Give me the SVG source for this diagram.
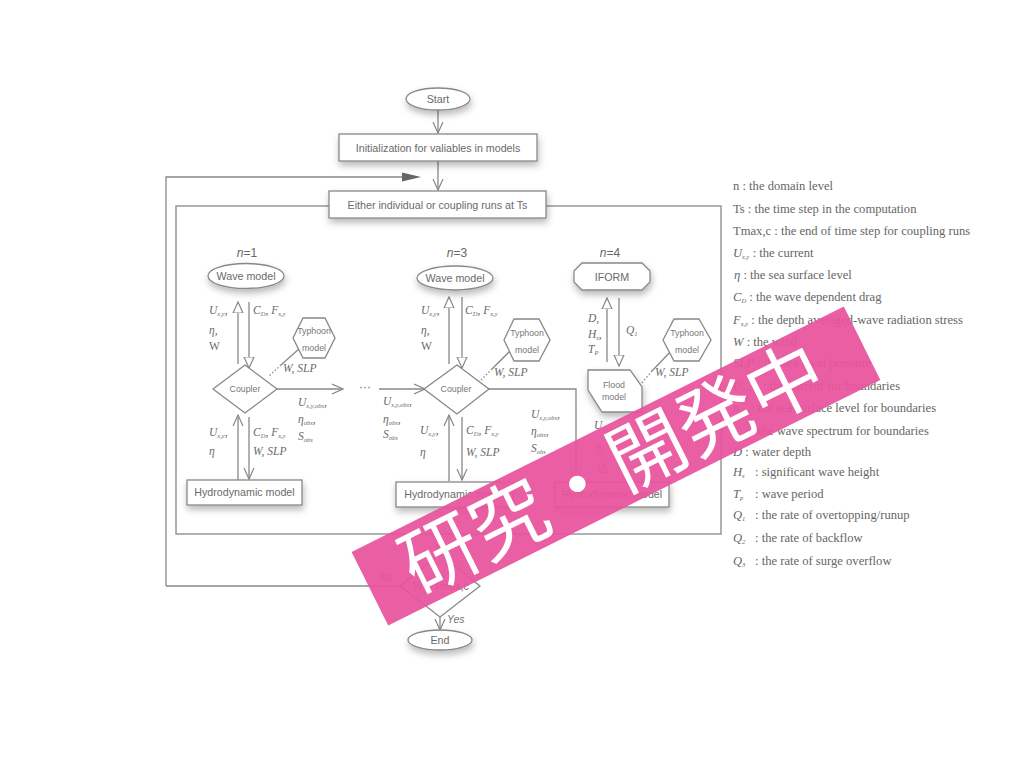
<svg xmlns="http://www.w3.org/2000/svg" width="1024" height="768" viewBox="0 0 1024 768">
<defs>
<filter id="sh" x="-30%" y="-30%" width="160%" height="190%">
<feDropShadow dx="1" dy="4" stdDeviation="3.5" flood-color="#000" flood-opacity="0.28"/>
</filter>
<marker id="v" markerUnits="userSpaceOnUse" markerWidth="12" markerHeight="12" viewBox="0 0 12 12" refX="11" refY="6" orient="auto">
<path d="M0,1 L11,6 L0,11" fill="none" stroke="#888" stroke-width="1.2"/>
</marker>
<marker id="tri" markerUnits="userSpaceOnUse" markerWidth="12" markerHeight="12" viewBox="0 0 12 12" refX="11" refY="6" orient="auto">
<path d="M0,1 L11,6 L0,11 z" fill="#fff" stroke="#888" stroke-width="1.2"/>
</marker>
<style>
.ln{stroke:#888;stroke-width:1.3;fill:none}
.dt{stroke:#888;stroke-width:1.3;fill:none;stroke-dasharray:1.5 2}
.nd{fill:#fff;stroke:#888;stroke-width:1.3}
.t{font-family:"Liberation Sans",Arial,sans-serif;font-size:10.7px;fill:#6a6a6a;text-anchor:middle}
.ts{font-family:"Liberation Sans",Arial,sans-serif;font-size:8.8px;fill:#777;text-anchor:middle}
.n{font-family:"Liberation Sans",Arial,sans-serif;font-size:12px;fill:#666;text-anchor:middle}
.m{font-family:"Liberation Serif","Times New Roman",serif;font-style:italic;font-size:11.5px;fill:#6a6a6a}
.up{font-style:normal}
.s{font-size:6.5px}
.lg{font-family:"Liberation Serif","Times New Roman",serif;font-size:12.6px;fill:#666}
.i{font-style:italic}
.yn{font-family:"Liberation Sans",Arial,sans-serif;font-style:italic;font-size:10.5px;fill:#777}
</style>
</defs>
<rect width="1024" height="768" fill="#fff"/>

<g id="connectors">
<line class="ln" x1="438" y1="110" x2="438" y2="133" marker-end="url(#v)"/>
<line class="ln" x1="438" y1="161" x2="438" y2="190" marker-end="url(#v)"/>
<polyline class="ln" points="166,586 166,177 403,177"/>
<polygon points="402,172.5 421,177 402,181.5" fill="#666"/>
<line class="ln" x1="166" y1="586" x2="400" y2="586"/>
<rect class="ln" x="176" y="206" width="545" height="328"/>
<line class="ln" x1="440" y1="534" x2="440" y2="553" marker-end="url(#v)"/>
<line class="ln" x1="440" y1="617" x2="440" y2="630" marker-end="url(#v)"/>
<!-- n=1 -->
<line class="ln" x1="238" y1="364" x2="238" y2="302" marker-end="url(#tri)"/>
<line class="ln" x1="249" y1="302" x2="249" y2="368" marker-end="url(#tri)"/>
<line class="ln" x1="238" y1="480" x2="238" y2="415" marker-end="url(#v)"/>
<line class="ln" x1="249" y1="417" x2="249" y2="479" marker-end="url(#v)"/>
<line class="ln" x1="277" y1="389" x2="343" y2="389" marker-end="url(#v)"/>
<line class="ln" x1="300" y1="348" x2="281" y2="365"/>
<line class="dt" x1="281" y1="365" x2="269" y2="376"/>
<!-- n=3 -->
<line class="ln" x1="449" y1="364" x2="449" y2="297" marker-end="url(#tri)"/>
<line class="ln" x1="462" y1="297" x2="462" y2="368" marker-end="url(#tri)"/>
<line class="ln" x1="449" y1="481" x2="449" y2="415" marker-end="url(#v)"/>
<line class="ln" x1="462" y1="417" x2="462" y2="480" marker-end="url(#v)"/>
<line class="ln" x1="379" y1="389" x2="425" y2="389" marker-end="url(#v)"/>
<polyline class="ln" points="489,389 576,389 576,481" marker-end="url(#v)"/>
<line class="ln" x1="511" y1="350" x2="492" y2="369"/>
<line class="dt" x1="492" y1="369" x2="480" y2="381"/>
<!-- n=4 -->
<line class="ln" x1="607" y1="362" x2="607" y2="298" marker-end="url(#tri)"/>
<line class="ln" x1="619" y1="298" x2="619" y2="366" marker-end="url(#tri)"/>
<line class="ln" x1="672" y1="350" x2="652" y2="371"/>
<line class="dt" x1="652" y1="371" x2="641" y2="384"/>
</g>

<g id="start"><ellipse class="nd" filter="url(#sh)" cx="438" cy="99" rx="32" ry="11"/><text class="t" x="438" y="103">Start</text></g>
<g id="init"><rect class="nd" filter="url(#sh)" x="339" y="134" width="198" height="27"/><text class="t" x="438" y="152">Initialization for valiables in models</text></g>
<g id="either"><rect class="nd" filter="url(#sh)" x="329" y="191" width="217" height="27"/><text class="t" x="437.5" y="208.5">Either individual or coupling runs at Ts</text></g>

<g id="n1">
<text class="n" x="247" y="257"><tspan class="i">n</tspan>=1</text>
<g id="wave1"><ellipse class="nd" filter="url(#sh)" cx="246" cy="276" rx="38" ry="12.5"/><text class="t" x="246" y="280">Wave model</text></g>
<g id="typhoon1"><path class="nd" d="M293,338 L303,318 L325,318 L335,338 L325,358 L303,358 Z"/><text class="ts" x="314" y="334">Typhoon</text><text class="ts" x="314" y="351">model</text></g>
<g id="coupler1"><path class="nd" d="M213,389 L245,365 L277,389 L245,413 Z"/><text class="ts" x="245" y="392">Coupler</text></g>
<g id="hydro1"><rect class="nd" filter="url(#sh)" x="187" y="480" width="115" height="25"/><text class="t" x="244.5" y="496">Hydrodynamic model</text></g>
<text class="m" x="209" y="314">U<tspan class="s" dy="2">x,y</tspan><tspan dy="-2">,</tspan></text>
<text class="m" x="209" y="334">η,</text>
<text class="m up" x="209" y="350">W</text>
<text class="m" x="253" y="314">C<tspan class="s" dy="2">D</tspan><tspan dy="-2">, F</tspan><tspan class="s" dy="2">x,y</tspan></text>
<text class="m" x="283" y="372">W, SLP</text>
<text class="m" x="298" y="406">U<tspan class="s" dy="2">x,y,obs</tspan><tspan dy="-2">,</tspan></text>
<text class="m" x="298" y="423">η<tspan class="s" dy="2">obs</tspan><tspan dy="-2">,</tspan></text>
<text class="m" x="298" y="440">S<tspan class="s" dy="2">obs</tspan></text>
<text class="m" x="209" y="436">U<tspan class="s" dy="2">x,y</tspan><tspan dy="-2">,</tspan></text>
<text class="m" x="209" y="455">η</text>
<text class="m" x="253" y="436">C<tspan class="s" dy="2">D</tspan><tspan dy="-2">, F</tspan><tspan class="s" dy="2">x,y</tspan></text>
<text class="m" x="253" y="455">W, SLP</text>
</g>
<text class="n" x="365" y="391">···</text>

<g id="n3">
<text class="n" x="457" y="257"><tspan class="i">n</tspan>=3</text>
<g id="wave3"><ellipse class="nd" filter="url(#sh)" cx="455" cy="278" rx="38" ry="12"/><text class="t" x="455" y="282">Wave model</text></g>
<g id="typhoon3"><path class="nd" d="M504,340 L514,319 L539,319 L550,340 L539,361 L514,361 Z"/><text class="ts" x="527" y="336">Typhoon</text><text class="ts" x="527" y="353">model</text></g>
<g id="coupler3"><path class="nd" d="M424,389 L457,365 L489,389 L457,414 Z"/><text class="ts" x="456" y="392">Coupler</text></g>
<g id="hydro3"><rect class="nd" filter="url(#sh)" x="396" y="482" width="117" height="25"/><text class="t" x="454.5" y="498">Hydrodynamic model</text></g>
<text class="m" x="421" y="314">U<tspan class="s" dy="2">x,y</tspan><tspan dy="-2">,</tspan></text>
<text class="m" x="421" y="334">η,</text>
<text class="m up" x="421" y="350">W</text>
<text class="m" x="465" y="314">C<tspan class="s" dy="2">D</tspan><tspan dy="-2">, F</tspan><tspan class="s" dy="2">x,y</tspan></text>
<text class="m" x="494" y="376">W, SLP</text>
<text class="m" x="383" y="405">U<tspan class="s" dy="2">x,y,obs</tspan><tspan dy="-2">,</tspan></text>
<text class="m" x="383" y="423">η<tspan class="s" dy="2">obs</tspan><tspan dy="-2">,</tspan></text>
<text class="m" x="383" y="438">S<tspan class="s" dy="2">obs</tspan></text>
<text class="m" x="420" y="434">U<tspan class="s" dy="2">x,y</tspan><tspan dy="-2">,</tspan></text>
<text class="m" x="420" y="456">η</text>
<text class="m" x="466" y="434">C<tspan class="s" dy="2">D</tspan><tspan dy="-2">, F</tspan><tspan class="s" dy="2">x,y</tspan></text>
<text class="m" x="466" y="456">W, SLP</text>
<text class="m" x="531" y="418">U<tspan class="s" dy="2">x,y,obs</tspan><tspan dy="-2">,</tspan></text>
<text class="m" x="531" y="435">η<tspan class="s" dy="2">obs</tspan><tspan dy="-2">,</tspan></text>
<text class="m" x="531" y="452">S<tspan class="s" dy="2">obs</tspan></text>
</g>

<g id="n4">
<text class="n" x="610" y="257"><tspan class="i">n</tspan>=4</text>
<g id="iform"><path class="nd" filter="url(#sh)" d="M582,263 L642,263 L650,271 L650,282 L642,290 L582,290 L574,282 L574,271 Z"/><text class="t" x="612" y="281">IFORM</text></g>
<g id="typhoon4"><path class="nd" d="M663,340 L674,319 L699,319 L711,340 L699,361 L674,361 Z"/><text class="ts" x="687" y="336">Typhoon</text><text class="ts" x="687" y="353">model</text></g>
<g id="flood"><path class="nd" filter="url(#sh)" d="M588,370 L630,370 L642,387 L642,412 L602,412 L588,390 Z"/><text class="ts" x="614" y="388">Flood</text><text class="ts" x="614" y="400">model</text></g>
<g id="hydro4"><rect class="nd" filter="url(#sh)" x="555" y="482" width="114" height="25"/><text class="t" x="612" y="498">Hydrodynamic model</text></g>
<text class="m" x="588" y="322">D,</text>
<text class="m" x="588" y="338">H<tspan class="s" dy="2">s</tspan><tspan dy="-2">,</tspan></text>
<text class="m" x="588" y="353">T<tspan class="s" dy="2">P</tspan></text>
<text class="m" x="626" y="334">Q<tspan class="s" dy="2">1</tspan></text>
<text class="m" x="655" y="376">W, SLP</text>
<text class="m" x="594" y="429">U<tspan class="s" dy="2">x,y</tspan><tspan dy="-2">,</tspan></text>
<text class="m" x="596" y="451">η,</text>
<text class="m" x="597" y="471">Q<tspan class="s" dy="2">2</tspan></text>
</g>

<g id="check">
<path class="nd" d="M400,586 L440,554 L480,586 L440,617 Z"/>
<text class="t" x="440" y="590">Ts &lt; Tmax,c</text>
<text class="yn" x="379" y="581">No</text>
<text class="yn" x="447" y="623">Yes</text>
</g>
<g id="end"><ellipse class="nd" filter="url(#sh)" cx="440" cy="640" rx="32" ry="10"/><text class="t" x="440" y="644">End</text></g>

<g id="legend">
<text class="lg" x="733" y="190">n : the domain level</text>
<text class="lg" x="733" y="213">Ts : the time step in the computation</text>
<text class="lg" x="733" y="235">Tmax,c : the end of time step for coupling runs</text>
<text class="lg" x="733" y="257"><tspan class="i">U</tspan><tspan class="s i" dy="2">x,y</tspan><tspan dy="-2"> : the current</tspan></text>
<text class="lg" x="734" y="279"><tspan class="i">η</tspan> : the sea surface level</text>
<text class="lg" x="733" y="301"><tspan class="i">C</tspan><tspan class="s i" dy="2">D</tspan><tspan dy="-2"> : the wave dependent drag</tspan></text>
<text class="lg" x="733" y="324"><tspan class="i">F</tspan><tspan class="s i" dy="2">x,y</tspan><tspan dy="-2"> : the depth averaged-wave radiation stress</tspan></text>
<text class="lg" x="733" y="346"><tspan class="i">W</tspan> : the wind</text>
<text class="lg" x="733" y="367"><tspan class="i">SLP</tspan> : the sea level pressure</text>
<text class="lg" x="733" y="390"><tspan class="i">U</tspan><tspan class="s i" dy="2">x,y,obs</tspan><tspan dy="-2"> : the current for boundaries</tspan></text>
<text class="lg" x="733" y="412"><tspan class="i">η</tspan><tspan class="s i" dy="2">obs</tspan><tspan dy="-2"> : the sea surface level for boundaries</tspan></text>
<text class="lg" x="733" y="435"><tspan class="i">S</tspan><tspan class="s i" dy="2">obs</tspan><tspan dy="-2"> : the wave spectrum for boundaries</tspan></text>
<text class="lg" x="733" y="456"><tspan class="i">D</tspan> : water depth</text>
<text class="lg" x="733" y="476"><tspan class="i">H</tspan><tspan class="s i" dy="2">s</tspan><tspan dy="-2" x="755">: significant wave height</tspan></text>
<text class="lg" x="733" y="498"><tspan class="i">T</tspan><tspan class="s i" dy="2">p</tspan><tspan dy="-2" x="755">: wave period</tspan></text>
<text class="lg" x="733" y="519"><tspan class="i">Q</tspan><tspan class="s i" dy="2">1</tspan><tspan dy="-2" x="755">: the rate of overtopping/runup</tspan></text>
<text class="lg" x="733" y="542"><tspan class="i">Q</tspan><tspan class="s i" dy="2">2</tspan><tspan dy="-2" x="755">: the rate of backflow</tspan></text>
<text class="lg" x="733" y="565"><tspan class="i">Q</tspan><tspan class="s i" dy="2">3</tspan><tspan dy="-2" x="755">: the rate of surge overflow</tspan></text>
</g>

<g id="banner" transform="translate(616,466) rotate(-26.5)">
<rect x="-275" y="-41" width="550" height="82" fill="#e8539c" opacity="0.93"/>
<text x="-4" y="28" text-anchor="middle" font-family="'Noto Sans CJK JP','Noto Sans CJK SC',sans-serif" font-size="77" fill="#fff">研究・開発中</text>
</g>
</svg>
